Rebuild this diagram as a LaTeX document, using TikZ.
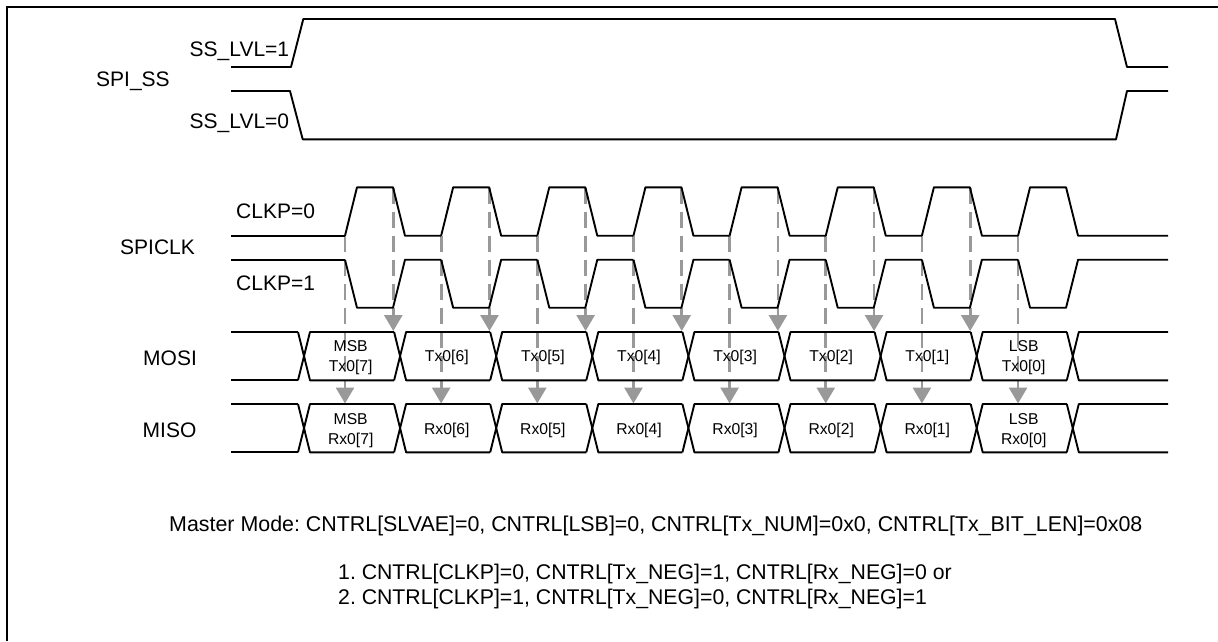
\documentclass[tikz,border=0pt]{standalone}
\usepackage{fontspec}
\setmainfont{Liberation Sans}
\usetikzlibrary{arrows.meta}
\definecolor{sgray}{HTML}{999999}
\frenchspacing
\tikzset{
  wave/.style={draw=black,line width=1.9pt,line join=round},
  frameline/.style={draw=black,line width=2.6pt},
  sample/.style={draw=sgray,line width=2.8pt,dash pattern=on 16pt off 8pt,
    -{Triangle[length=16pt,width=18pt,fill=sgray]}},
  biglabel/.style={anchor=base west,inner sep=0pt,font=\fontsize{21pt}{24pt}\selectfont},
  note/.style={anchor=base west,inner sep=0pt,font=\fontsize{21.25pt}{24pt}\selectfont},
  cell/.style={anchor=base,inner sep=0pt,font=\fontsize{15.7pt}{18pt}\selectfont},
}
\begin{document}
\begin{tikzpicture}[x=1pt,y=-1pt]
\useasboundingbox (0,0) rectangle (1218,641);
% frame
\coordinate (f1) at (6.8,641); \coordinate (f2) at (6.8,6.8); \coordinate (f3) at (1218,6.8);
\draw[frameline] (f1) -- (f2) -- (f3);
% sampling arrows
\foreach \k in {0,...,7}{
  \pgfmathsetmacro\xa{345+96.15*\k}
  \coordinate (sa\k) at (\xa,236); \coordinate (ea\k) at (\xa,403.5);
  \draw[sample] (sa\k) -- (ea\k);
}
\foreach \k in {0,...,6}{
  \pgfmathsetmacro\xb{393.3+96.15*\k}
  \coordinate (sb\k) at (\xb,187.5); \coordinate (eb\k) at (\xb,331);
  \draw[sample] (sb\k) -- (eb\k);
}
% SPI_SS
\draw[wave] (231,67) -- (291,67) -- (303.3,19) -- (1115,19) -- (1127,67) -- (1168,67);
\draw[wave] (231,91) -- (290,91) -- (302.7,139.3) -- (1116,139.3) -- (1127,91) -- (1168,91);
% SPICLK
\foreach \k in {0,...,7}{
  \pgfmathsetmacro\xa{345+96.15*\k}
  \pgfmathsetmacro\xb{\xa+12}
  \pgfmathsetmacro\xc{\xa+48}
  \pgfmathsetmacro\xd{\xa+60}
  \pgfmathsetmacro\xe{\k<7 ? \xa+96.15 : 1168}
  \draw[wave] (\xa,235.7) -- (\xb,187.3) -- (\xc,187.3) -- (\xd,235.7) -- (\xe,235.7);
  \draw[wave] (\xa,259.7) -- (\xb,307.7) -- (\xc,307.7) -- (\xd,259.7) -- (\xe,259.7);
}
\draw[wave] (231,235.7) -- (345,235.7);
\draw[wave] (231,259.7) -- (345,259.7);
% MOSI / MISO buses
\foreach \yt/\yb in {332/380.3,404/452.3}{
  \draw[wave] (231,\yt) -- (298,\yt);
  \draw[wave] (231,\yb) -- (298,\yb);
  \foreach \k in {0,...,8}{
    \pgfmathsetmacro\xa{298+96.1*\k}
    \pgfmathsetmacro\xb{\xa+12}
    \pgfmathsetmacro\xc{\k<8 ? \xa+96.1 : 1168}
    \draw[wave] (\xa,\yt) -- (\xb,\yb) -- (\xc,\yb);
    \draw[wave] (\xa,\yb) -- (\xb,\yt) -- (\xc,\yt);
  }
}
% labels
\node[biglabel] (spiss) at (96,86) {SPI\_SS};
\node[biglabel] (lvl1) at (189.5,56) {SS\_LVL=1};
\node[biglabel] (lvl0) at (189.5,128) {SS\_LVL=0};
\node[biglabel] (clkp0) at (236,218) {CLKP=0};
\node[biglabel] (clkp1) at (236,290) {CLKP=1};
\node[biglabel] (spiclk) at (120,254) {SPICLK};
\node[biglabel] (mosi) at (143,365) {MOSI};
\node[biglabel] (miso) at (142.5,437) {MISO};
% cell texts
\node[cell] (tm) at (350.7,351.7) {MSB};
\node[cell] (t7) at (350.7,371.7) {Tx0[7]};
\node[cell] (rm) at (350.7,424) {MSB};
\node[cell] (r7) at (350.7,444) {Rx0[7]};
\foreach \k/\b in {0/6,1/5,2/4,3/3,4/2,5/1}{
  \pgfmathsetmacro\xa{446.8+96.1*\k}
  \node[cell] (t\b) at (\xa,361.7) {Tx0[\b]};
  \node[cell] (r\b) at (\xa,434) {Rx0[\b]};
}
\node[cell] (tl) at (1023.7,351.7) {LSB};
\node[cell] (t0) at (1023.7,371.7) {Tx0[0]};
\node[cell] (rl) at (1023.7,424) {LSB};
\node[cell] (r0) at (1023.7,444) {Rx0[0]};
% notes
\node[note,font=\fontsize{21.4pt}{24pt}\selectfont] (note0) at (169,531) {Master Mode: CNTRL[SLVAE]=0, CNTRL[LSB]=0, CNTRL[Tx\_NUM]=0x0, CNTRL[Tx\_BIT\_LEN]=0x08};
\node[note] (note1) at (338,579) {1. CNTRL[CLKP]=0, CNTRL[Tx\_NEG]=1, CNTRL[Rx\_NEG]=0 or};
\node[note] (note2) at (338,604) {2. CNTRL[CLKP]=1, CNTRL[Tx\_NEG]=0, CNTRL[Rx\_NEG]=1};
\end{tikzpicture}
\end{document}
